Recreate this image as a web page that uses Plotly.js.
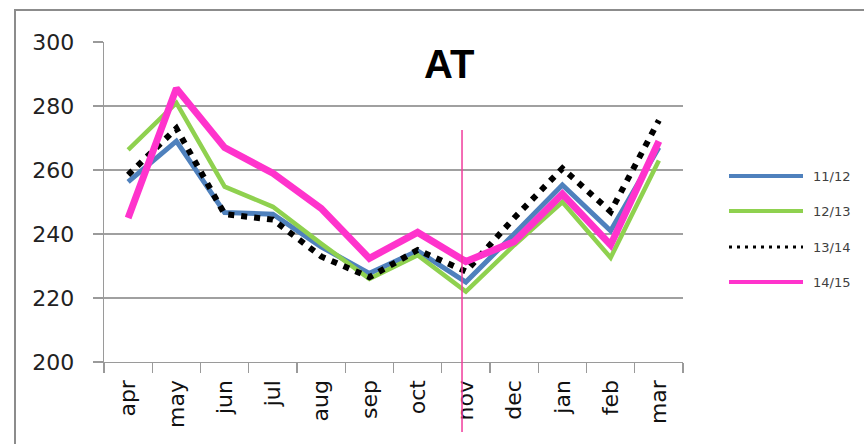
<!DOCTYPE html>
<html>
<head>
<meta charset="utf-8">
<script src="https://cdn.plot.ly/plotly-3.0.1.min.js"></script>
<style>
  html, body { margin: 0; padding: 0; background: #fff; overflow: hidden; }
  #wrap { position: relative; width: 864px; height: 444px; overflow: hidden; }
  #chart { position: absolute; left: 0; top: 0; width: 864px; height: 444px; }
  #frame { position: absolute; left: 14px; top: 9px; width: 900px; height: 500px;
           border-left: 2px solid #8c8c8c; border-top: 2px solid #8c8c8c; pointer-events: none; }
  #glyph { position: absolute; left: 543px; top: -39px; font: bold 44px/44px "DejaVu Sans"; color: #3ca32a; }
</style>
</head>
<body>
<div id="wrap">
  <div id="glyph">g</div>
  <div id="chart"></div>
  <div id="frame"></div>
</div>
<script>
const months = ["apr","may","jun","jul","aug","sep","oct","nov","dec","jan","feb","mar"];
const seriesNames = ["11/12","12/13","13/14","14/15"];
const s1112 = [256.3, 269.0, 246.7, 246.2, 236.0, 227.7, 234.7, 225.0, 240.0, 255.3, 241.0, 267.0];
const s1213 = [266.3, 281.0, 254.8, 248.5, 237.0, 226.0, 233.4, 222.0, 236.5, 250.0, 232.6, 263.0];
const s1314 = [258.5, 273.0, 246.2, 244.5, 233.0, 226.5, 235.0, 228.3, 245.0, 260.5, 247.0, 275.5];
const s1415 = [245.0, 285.5, 267.0, 259.0, 248.0, 232.4, 240.5, 231.4, 237.6, 252.5, 236.6, 269.0];
const yTicks = [200, 220, 240, 260, 280, 300];
const chartTitle = "AT";
const markerMonthIndex = 6.92;

const allValues = [s1112, s1213, s1314, s1415];
const styles = [
  {color: "#4f81bd", width: 5, dash: "solid"},
  {color: "#8fd14f", width: 4.5, dash: "solid"},
  {color: "#000000", width: 6, dash: "6px,7px"},
  {color: "#ff33cc", width: 7, dash: "solid"}
];
const legendStyles = [
  {color: "#4f81bd", width: 4, dash: "solid"},
  {color: "#8fd14f", width: 4, dash: "solid"},
  {color: "#000000", width: 3, dash: "3px,5px"},
  {color: "#ff33cc", width: 4, dash: "solid"}
];

const traces = seriesNames.map((n, i) => ({
  type: "scatter", mode: "lines", name: n, x: months, y: allValues[i],
  line: {color: styles[i].color, width: styles[i].width, dash: styles[i].dash},
  showlegend: false, hoverinfo: "skip"
}));

const L = 104, R = 683, T = 42, B = 362;
const px = x => (x - L) / (R - L);
const py = y => (B - y) / (B - T);

const shapes = [{
  type: "line", xref: "x", yref: "paper", x0: markerMonthIndex, x1: markerMonthIndex,
  y0: py(432), y1: py(130), line: {color: "#f03c9c", width: 1.5}, layer: "above"
}];
const annotations = [{
  text: "<b>" + chartTitle + "</b>", xref: "paper", yref: "paper",
  x: px(449), y: py(64), xanchor: "center", yanchor: "middle", showarrow: false,
  font: {family: "Liberation Sans, Arial, sans-serif", size: 40, color: "#000"}
}];
const legendY = [176, 211, 247, 282];
seriesNames.forEach((n, i) => {
  shapes.push({type: "line", xref: "paper", yref: "paper",
    x0: px(729), x1: px(803), y0: py(legendY[i]), y1: py(legendY[i]),
    line: {color: legendStyles[i].color, width: legendStyles[i].width, dash: legendStyles[i].dash}});
  annotations.push({text: n, xref: "paper", yref: "paper", x: px(811), y: py(legendY[i]),
    xanchor: "left", yanchor: "middle", showarrow: false,
    font: {family: "DejaVu Sans", size: 13, color: "#404040"}});
});

const layout = {
  width: 864, height: 444,
  margin: {l: L, r: 864 - R, t: T, b: 444 - B, pad: 0},
  paper_bgcolor: "#fff", plot_bgcolor: "#fff",
  showlegend: false,
  xaxis: {
    type: "category", categoryorder: "array", categoryarray: months,
    range: [-0.5, months.length - 0.5],
    tickangle: -90, tickson: "boundaries", ticks: "outside", ticklen: 10,
    tickcolor: "#9a9a9a", tickwidth: 1.3, showline: true, linecolor: "#9a9a9a", linewidth: 1.3,
    showgrid: false, zeroline: false, fixedrange: true, ticklabelstandoff: 8,
    tickfont: {family: "DejaVu Sans", size: 22, color: "#111"}
  },
  yaxis: {
    range: [200, 300], tickvals: yTicks, ticktext: yTicks.map(String),
    ticks: "outside", ticklen: 10, tickcolor: "#9a9a9a", tickwidth: 1.3,
    showline: true, linecolor: "#9a9a9a", linewidth: 1.3,
    showgrid: true, gridcolor: "#a0a0a0", gridwidth: 1.3, zeroline: false,
    ticklabelstandoff: 14, fixedrange: true,
    tickfont: {family: "DejaVu Sans", size: 22, color: "#222"}
  },
  shapes: shapes,
  annotations: annotations
};

Plotly.newPlot("chart", traces, layout, {staticPlot: true, displayModeBar: false});
</script>
</body>
</html>
